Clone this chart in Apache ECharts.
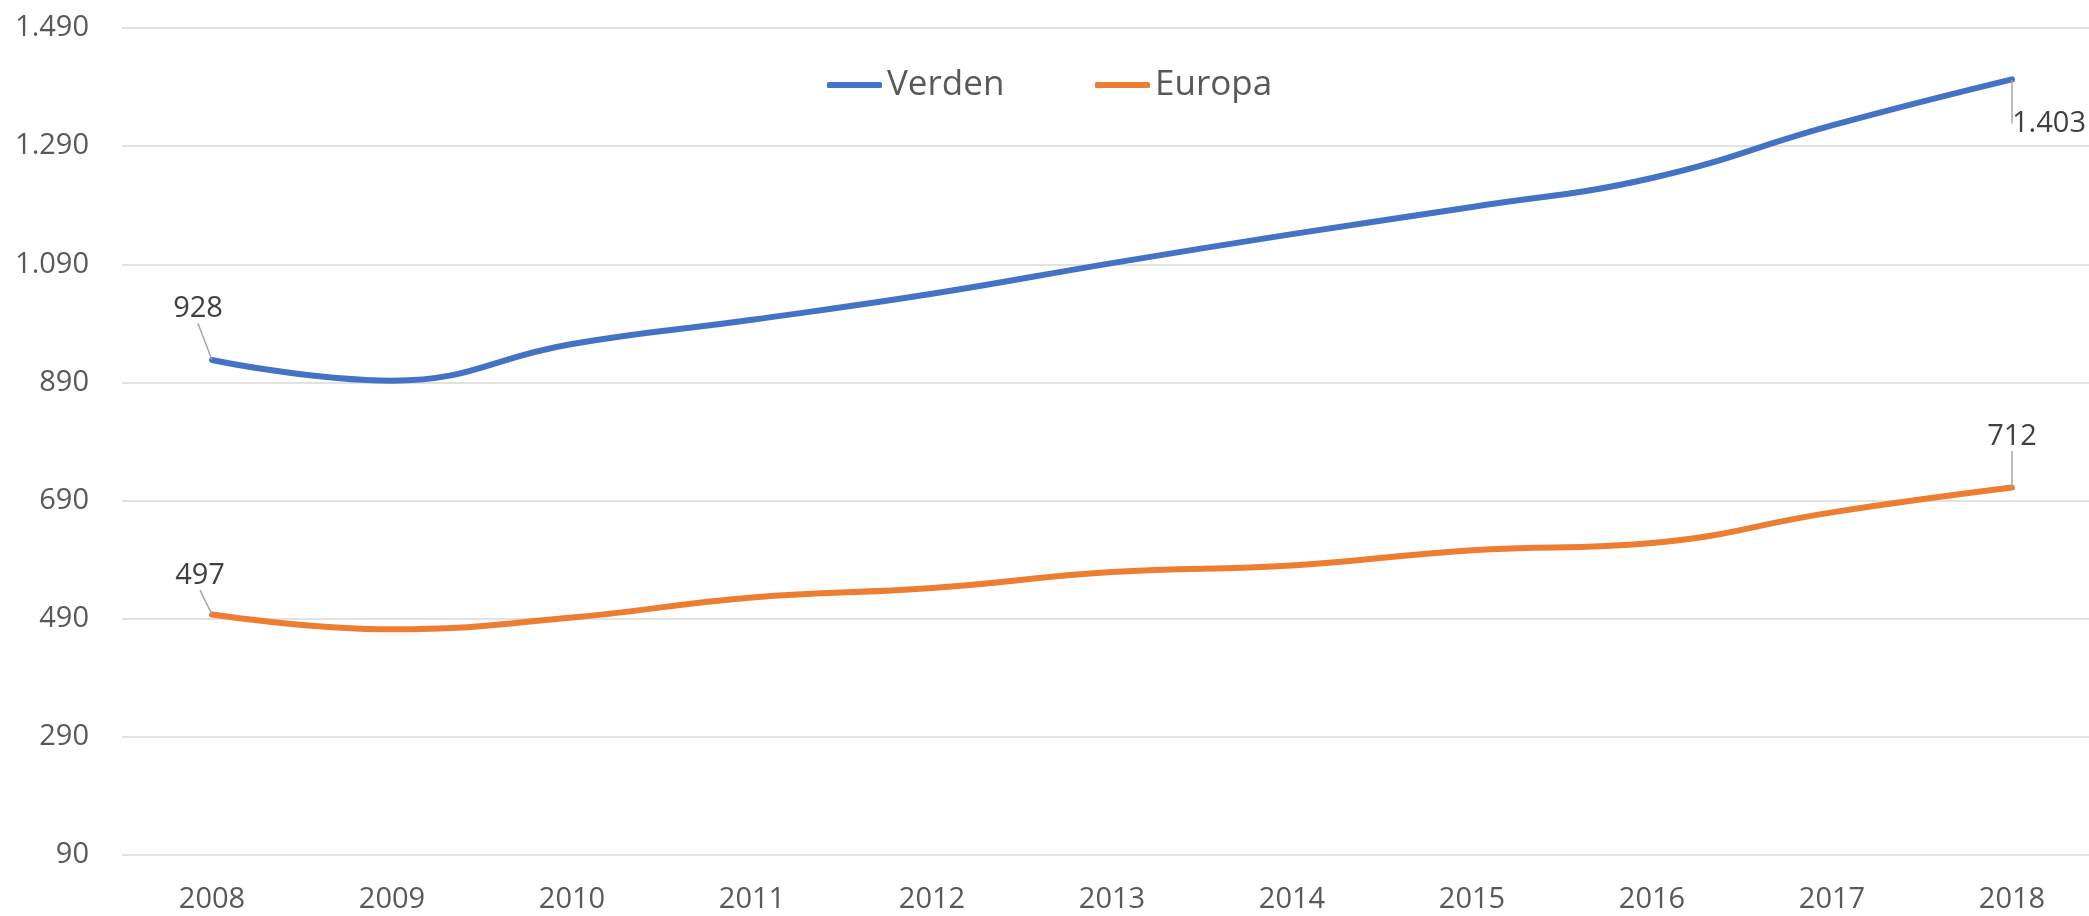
<!DOCTYPE html>
<html>
<head>
<meta charset="utf-8">
<script src="https://cdn.jsdelivr.net/npm/echarts@6/dist/echarts.min.js"></script>
<style>
html,body{margin:0;padding:0;background:#fff;}
#chart{width:2089px;height:916px;}
</style>
</head>
<body>
<div id="chart"></div>
<script>
const categories = ['2008','2009','2010','2011','2012','2013','2014','2015','2016','2017','2018'];
const verden = [928, 893, 955, 996, 1040, 1092, 1141, 1187, 1236, 1325, 1403];
const europa = [497, 472, 492, 526, 542, 569, 580, 606, 618, 670, 712];
const seriesNames = ['Verden', 'Europa'];
const yMin = 90, yMax = 1490, yStep = 200;

const FONT = '"Open Sans", "Noto Sans", sans-serif';
function fmt(v) {
  return String(v).replace(/\B(?=(\d{3})+(?!\d))/g, '.');
}
// label offsets (px) relative to the point, for first & last point of each series
const labelOffsets = {
  0: { first: [-14, -51], last: [37, 44] },
  1: { first: [-12, -39], last: [0, -51] }
};

function makeData(arr) {
  return arr.map((v, i) => {
    const show = (i === 0 || i === arr.length - 1);
    return { value: v, label: { show: show } };
  });
}

const chart = echarts.init(document.getElementById('chart'), null, { renderer: 'canvas' });
const colors = ['#4472C4', '#ED7D31'];

function lineSeries(name, arr, idx) {
  return {
    name: name,
    type: 'line',
    data: makeData(arr),
    smooth: 0.45,
    symbol: 'circle',
    symbolSize: 1,
    showSymbol: true,
    itemStyle: { color: colors[idx] },
    lineStyle: { color: colors[idx], width: 6, cap: 'round', join: 'round' },
    label: {
      show: false,
      position: 'inside',
      formatter: p => fmt(p.value),
      fontFamily: FONT,
      fontSize: 29,
      color: '#404040'
    },
    labelLine: { show: true, lineStyle: { color: '#A6A6A6', width: 1.5 } },
    labelLayout: function (params) {
      const off = labelOffsets[params.seriesIndex];
      const o = params.dataIndex === 0 ? off.first : off.last;
      return { dx: o[0], dy: o[1] };
    },
    emphasis: { disabled: true },
    animation: false,
    z: 3
  };
}

const option = {
  backgroundColor: '#ffffff',
  animation: false,
  grid: { left: 122, right: -13, top: 28, bottom: 61, outerBoundsMode: 'none', containLabel: false },
  legend: [
    {
      data: [seriesNames[0]], left: 822, top: 60, icon: 'roundRect', itemWidth: 55, itemHeight: 6,
      textStyle: { fontFamily: FONT, fontSize: 35, color: '#595959', lineHeight: 40 }, selectedMode: false
    },
    {
      data: [seriesNames[1]], left: 1090, top: 60, icon: 'roundRect', itemWidth: 55, itemHeight: 6,
      textStyle: { fontFamily: FONT, fontSize: 35, color: '#595959', lineHeight: 40 }, selectedMode: false
    }
  ],
  xAxis: {
    type: 'category',
    data: categories,
    boundaryGap: true,
    axisLine: { show: false },
    axisTick: { show: false },
    axisLabel: { fontFamily: FONT, fontSize: 29, color: '#595959', margin: 30 }
  },
  yAxis: {
    type: 'value',
    min: yMin,
    max: yMax,
    interval: yStep,
    axisLine: { show: false },
    axisTick: { show: false },
    splitLine: { lineStyle: { color: '#D9D9D9', width: 1.5 } },
    axisLabel: { fontFamily: FONT, fontSize: 29, color: '#595959', margin: 33, formatter: v => fmt(v) }
  },
  series: [
    lineSeries(seriesNames[0], verden, 0),
    lineSeries(seriesNames[1], europa, 1)
  ]
};
chart.setOption(option);
</script>
</body>
</html>
